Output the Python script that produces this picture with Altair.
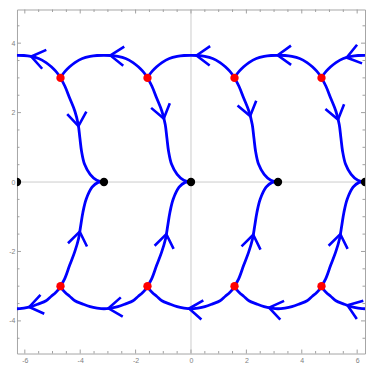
import math
import altair as alt
import numpy as np
import pandas as pd

# ---- plot ranges / panel size ----
X_MIN, X_MAX = -6.2832, 6.2832
Y_MIN, Y_MAX = -4.94, 4.97
W, H = 349, 345

# ---- equilibria ----
node_x = [-6.283, -3.142, 0.0, 3.142, 6.283]
node_y = [0.0, 0.0, 0.0, 0.0, 0.0]
saddle_x = [-4.712, -1.571, 1.571, 4.712, -4.712, -1.571, 1.571, 4.712]
saddle_y = [3.0, 3.0, 3.0, 3.0, -3.0, -3.0, -3.0, -3.0]

# ---- separatrix shapes (relative to peak / node x) ----
arc_peak_x = [-6.283, -3.142, 0.0, 3.142, 6.283]
top_arc_dx = [-1.571, -1.50, -1.39, -1.24, -1.05, -0.78, -0.50, -0.25, 0.0,
              0.25, 0.50, 0.78, 1.05, 1.24, 1.39, 1.50, 1.571]
top_arc_y = [3.0, 3.09, 3.20, 3.32, 3.44, 3.56, 3.62, 3.645, 3.65,
             3.645, 3.62, 3.56, 3.44, 3.32, 3.20, 3.09, 3.0]
bot_arc_dx = [-1.571, -1.50, -1.39, -1.24, -1.05, -0.78, -0.50, -0.25, 0.0,
              0.25, 0.50, 0.78, 1.05, 1.24, 1.39, 1.50, 1.571]
bot_arc_y = [-3.0, -3.09, -3.19, -3.29, -3.42, -3.51, -3.59, -3.63, -3.65,
             -3.63, -3.59, -3.51, -3.42, -3.29, -3.19, -3.09, -3.0]

drop_node_x = [-3.142, 0.0, 3.142, 6.283]
top_drop_dx = [-1.571, -1.41, -1.24, -1.05, -0.93, -0.87, -0.81, -0.70, -0.50, -0.26, 0.0]
top_drop_y = [3.0, 2.76, 2.42, 2.04, 1.66, 1.27, 0.89, 0.51, 0.22, 0.05, 0.0]
bot_drop_dx = [-1.571, -1.42, -1.24, -1.06, -0.92, -0.84, -0.76, -0.64, -0.43, -0.21, 0.0]
bot_drop_y = [-3.0, -2.79, -2.40, -2.02, -1.64, -1.26, -0.87, -0.49, -0.15, -0.01, 0.0]

# ---- arrowhead positions ----
top_arc_arrow_x = [-5.77, -2.91, 0.20, 3.13, 5.62]
bot_arc_arrow_x = [-5.84, -2.98, -0.07, 2.82, 5.65]
top_drop_arrow_y = [1.61, 1.83, 1.90, 1.80]
bot_drop_arrow_y = [-1.43, -1.50, -1.52, -1.50]

# ---- ticks ----
x_major = [-6, -4, -2, 0, 2, 4, 6]
x_minor = [v / 2 for v in range(-12, 13) if v % 4 != 0]
y_major = [-4, -2, 0, 2, 4]
y_minor = [v / 2 for v in range(-9, 10) if v % 4 != 0]

BLUE = "#0000ff"

# ---- build tables ----
rows = []
seg = 0
for pk in arc_peak_x:
    for tdx, ty in ((top_arc_dx, top_arc_y), (bot_arc_dx, bot_arc_y)):
        for i, (d, y) in enumerate(zip(tdx, ty)):
            rows.append(dict(x=pk + d, y=y, seg=seg, o=i))
        seg += 1
for nx in drop_node_x:
    for tdx, ty in ((top_drop_dx, top_drop_y), (bot_drop_dx, bot_drop_y)):
        for i, (d, y) in enumerate(zip(tdx, ty)):
            rows.append(dict(x=nx + d, y=y, seg=seg, o=i))
        seg += 1
curves = pd.DataFrame(rows)

sx = W / (X_MAX - X_MIN)
sy = H / (Y_MAX - Y_MIN)


def nearest(v, arr):
    return min(arr, key=lambda a: abs(a - v))


arrows = []
h = 0.04
for ax_, tdx, ty in ((top_arc_arrow_x, top_arc_dx, top_arc_y),
                     (bot_arc_arrow_x, bot_arc_dx, bot_arc_y)):
    for xa in ax_:
        pk = nearest(xa, arc_peak_x)
        d = xa - pk
        ya = float(np.interp(d, tdx, ty))
        slope = (np.interp(d + h, tdx, ty) - np.interp(d - h, tdx, ty)) / (2 * h)
        ang = math.degrees(math.atan2(sy * slope, -sx)) % 360
        arrows.append(dict(x=xa, y=ya, ang=ang))

# top drops: moving downward
ty_r = top_drop_y[::-1]
tdx_r = top_drop_dx[::-1]
for nx, ya in zip(drop_node_x, top_drop_arrow_y):
    d = float(np.interp(ya, ty_r, tdx_r))
    dxdy = (np.interp(ya + h, ty_r, tdx_r) - np.interp(ya - h, ty_r, tdx_r)) / (2 * h)
    ang = math.degrees(math.atan2(sy, -sx * dxdy)) % 360
    arrows.append(dict(x=nx + d, y=ya, ang=ang))
# bottom drops: moving upward
for nx, ya in zip(drop_node_x, bot_drop_arrow_y):
    d = float(np.interp(ya, bot_drop_y, bot_drop_dx))
    dxdy = (np.interp(ya + h, bot_drop_y, bot_drop_dx) - np.interp(ya - h, bot_drop_y, bot_drop_dx)) / (2 * h)
    ang = math.degrees(math.atan2(-sy, sx * dxdy)) % 360
    arrows.append(dict(x=nx + d, y=ya, ang=ang))
arrows = pd.DataFrame(arrows)

nodes = pd.DataFrame(dict(x=node_x, y=node_y))
saddles = pd.DataFrame(dict(x=saddle_x, y=saddle_y))

xs = alt.Scale(domain=[X_MIN, X_MAX], nice=False, zero=False)
ys = alt.Scale(domain=[Y_MIN, Y_MAX], nice=False, zero=False)

lab = "datum.value < 0 ? '-' + abs(datum.value) : '' + datum.value"
x_axis = alt.Axis(values=x_major, ticks=False, domain=False, grid=False, title=None,
                  labelFontSize=7, labelColor="#808080", labelPadding=3,
                  labelFont="Liberation Sans", labelExpr=lab)
y_axis = alt.Axis(values=y_major, ticks=False, domain=False, grid=False, title=None,
                  labelFontSize=7, labelColor="#808080", labelPadding=2,
                  labelFont="Liberation Sans", labelExpr=lab)


def X(f):
    return alt.X(f, scale=xs, axis=x_axis)


def Y(f):
    return alt.Y(f, scale=ys, axis=y_axis)


# zero lines
zero_v = alt.Chart(pd.DataFrame(dict(v=[0.0]))).mark_rule(color="#cccccc", strokeWidth=1).encode(
    x=X("v:Q"))
zero_h = alt.Chart(pd.DataFrame(dict(v=[0.0]))).mark_rule(color="#cccccc", strokeWidth=1).encode(
    y=Y("v:Q"))

TC = "#a0a0a0"
xt_maj = pd.DataFrame(dict(v=x_major))
xt_min = pd.DataFrame(dict(v=x_minor))
yt_maj = pd.DataFrame(dict(v=y_major))
yt_min = pd.DataFrame(dict(v=y_minor))


def xticks(df, L):
    b = alt.Chart(df).mark_rule(color=TC, strokeWidth=1).encode(
        x=X("v:Q"), y=alt.value(H), y2=alt.value(H - L))
    t = alt.Chart(df).mark_rule(color=TC, strokeWidth=1).encode(
        x=X("v:Q"), y=alt.value(0), y2=alt.value(L))
    return [b, t]


def yticks(df, L):
    l = alt.Chart(df).mark_rule(color=TC, strokeWidth=1).encode(
        y=Y("v:Q"), x=alt.value(0), x2=alt.value(L))
    r = alt.Chart(df).mark_rule(color=TC, strokeWidth=1).encode(
        y=Y("v:Q"), x=alt.value(W), x2=alt.value(W - L))
    return [l, r]


tick_layers = xticks(xt_maj, 4) + xticks(xt_min, 2.5) + yticks(yt_maj, 4) + yticks(yt_min, 2.5)

lines = alt.Chart(curves).mark_line(color=BLUE, strokeWidth=2.8, interpolate="catmull-rom",
                                    clip=True).encode(
    x=X("x:Q"),
    y=Y("y:Q"),
    detail="seg:N",
    order="o:Q",
)

heads = alt.Chart(arrows).mark_point(shape="M-1,-0.72L0,0L-1,0.72", filled=False, color=BLUE,
                                     strokeWidth=2.6, size=720, opacity=1, clip=True).encode(
    x=X("x:Q"),
    y=Y("y:Q"),
    angle=alt.Angle("ang:Q", scale=None),
)

black = alt.Chart(nodes).mark_circle(color="black", size=70, opacity=1, clip=True).encode(
    x=X("x:Q"),
    y=Y("y:Q"),
)
red = alt.Chart(saddles).mark_circle(color="#ff0000", size=70, opacity=1, clip=True).encode(
    x=X("x:Q"),
    y=Y("y:Q"),
)

chart = alt.layer(zero_v, zero_h, *tick_layers, lines, heads, black, red).properties(
    width=W, height=H, padding={"left": 0, "top": 0, "right": 0, "bottom": 0}
).configure_view(stroke="#a6a6a6", strokeWidth=1)

chart.save("out.html", embed_options={"renderer": "svg", "actions": False})
